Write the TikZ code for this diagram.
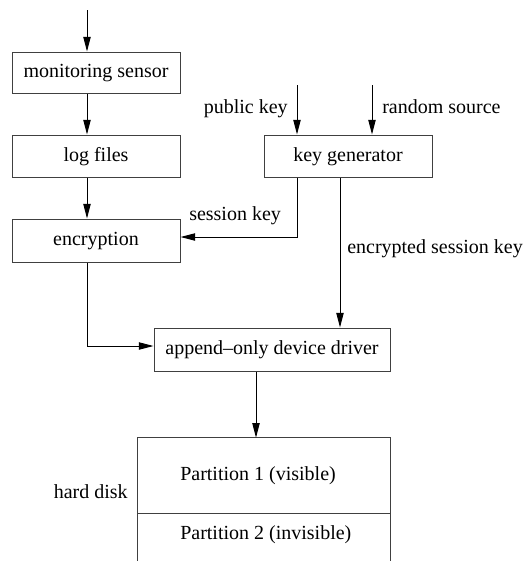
\documentclass[tikz,border=0pt]{standalone}
\usepackage{fontspec}
\setmainfont{Liberation Serif}
\usetikzlibrary{arrows.meta}
\begin{document}
\begin{tikzpicture}[x=0.75pt,y=-0.75pt,
 txt/.style={font=\fontsize{15}{18}\selectfont, text height=10.5pt, text depth=3pt},
 box/.style={txt, draw=black!75, line width=0.75pt, inner sep=0pt},
 lbl/.style={txt, inner sep=0pt},
 arr/.style={-{Triangle[length=11pt,width=5.5pt]}, line width=0.75pt},
 ln/.style={draw=black!75, line width=0.75pt}]
\useasboundingbox (0,0) rectangle (527,561);
% boxes
\node[box, minimum width=126pt, minimum height=30.75pt] (mon) at (96,72.5) {monitoring sensor};
\node[box, minimum width=126pt, minimum height=31.5pt] (log) at (96,156) {log files};
\node[box, minimum width=126pt, minimum height=32.25pt] (enc) at (96,240.5) {encryption};
\node[box, minimum width=126pt, minimum height=31.5pt] (kg) at (348,156) {key generator};
\node[box, minimum width=177pt, minimum height=32.25pt] (app) at (272,349.5) {append\textendash only device driver};
\node[inner sep=0pt, minimum width=189pt, minimum height=56.25pt] (p1) at (264,475.5) {};
% labels
\node[lbl, anchor=east] (lpk) at (288,108) {public key};
\node[lbl, anchor=west] (lrs) at (382,108) {random source};
\node[lbl, anchor=west] (lsk) at (189,215) {session key};
\node[lbl, anchor=west] (lesk) at (347,248) {encrypted session key};
\node[lbl, anchor=east] (lhd) at (128,493) {hard disk};
\node[lbl, anchor=west] (lp1) at (180,475) {Partition 1 (visible)};
\node[lbl, anchor=west] (lp2) at (180,534) {Partition 2 (invisible)};
% coordinates
\coordinate (top) at (87,10);
\coordinate (pk) at (297,85);
\coordinate (rs) at (372,85);
\coordinate (sk) at (297,237);
\coordinate (esk) at (340,0);
\coordinate (ea) at (87,346);
\coordinate (ad) at (256,0);
\coordinate (bot) at (0,561);
% hard disk
\draw[ln] (p1.west |- bot) -- (p1.north west) -- (p1.north east) -- (p1.east |- bot);
\draw[ln] (p1.south west) -- (p1.south east);
% connectors
\draw[arr] (top) -- (mon.north -| top);
\draw[arr] (mon.south -| top) -- (log.north -| top);
\draw[arr] (log.south -| top) -- (enc.north -| top);
\draw[arr] (pk) -- (kg.north -| pk);
\draw[arr] (rs) -- (kg.north -| rs);
\draw[arr] (kg.south -| sk) |- (enc.east |- sk);
\draw[arr] (kg.south -| esk) -- (app.north -| esk);
\draw[arr] (enc.south -| ea) |- (app.west |- ea);
\draw[arr] (app.south -| ad) -- (p1.north -| ad);
\end{tikzpicture}
\end{document}
